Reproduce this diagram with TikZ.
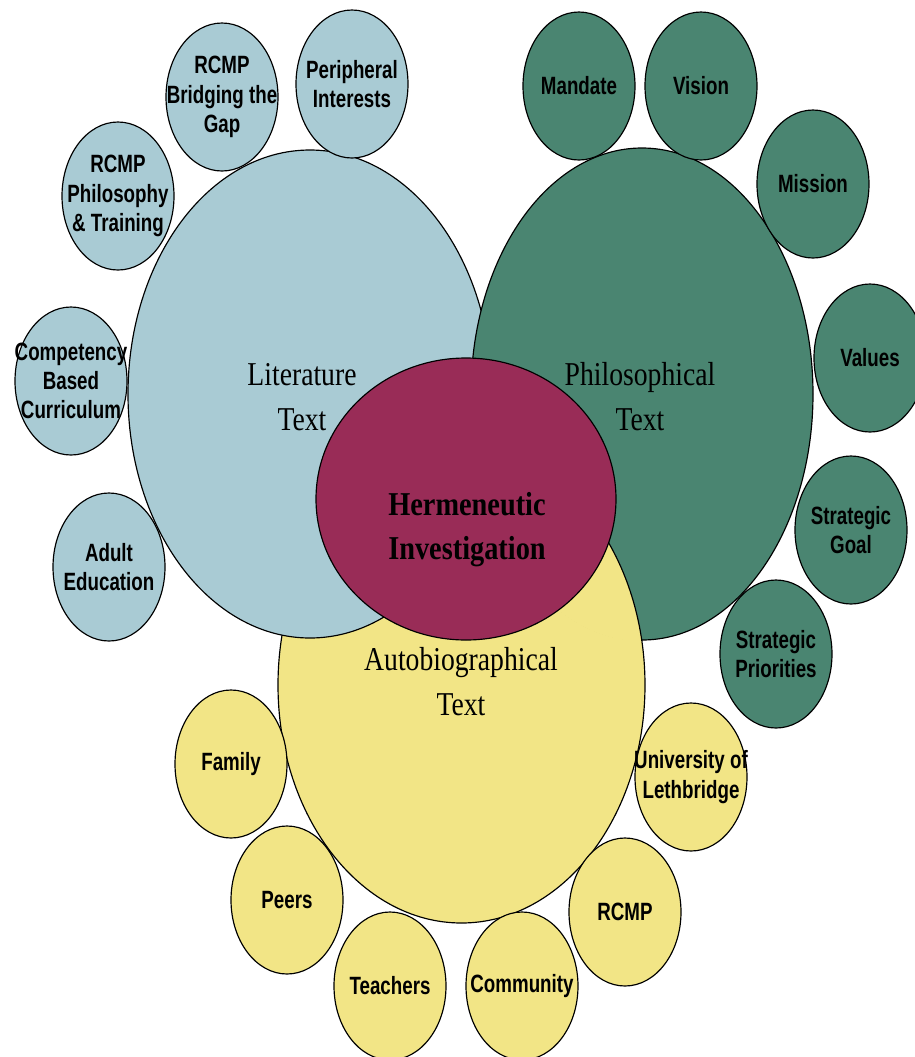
\documentclass[tikz,border=0pt]{standalone}
\usepackage{fontspec}
\usetikzlibrary{shapes.geometric}
\newfontfamily\labfont[FakeStretch=0.75]{Liberation Sans}
\newfontfamily\bigfont[FakeStretch=0.83]{Liberation Serif}
\newfontfamily\herfont[FakeStretch=0.85]{Liberation Serif}
\definecolor{litblue}{HTML}{A9CBD4}
\definecolor{philgreen}{HTML}{4A8571}
\definecolor{autoyellow}{HTML}{F2E586}
\definecolor{hermred}{HTML}{992C57}
\begin{document}
\begin{tikzpicture}[x=0.6pt,y=-0.6pt,
  outl/.style={draw=black, line width=0.7pt},
  bigell/.style={ellipse, outl, inner sep=0pt},
  small/.style={ellipse, outl, inner sep=-40pt, minimum width=67.2pt, minimum height=88.8pt,
    font=\labfont\bfseries\fontsize{15}{17.5}\selectfont, align=center, text=black},
  sblue/.style={small, fill=litblue},
  sgreen/.style={small, fill=philgreen},
  syellow/.style={small, fill=autoyellow},
  bigtext/.style={font=\bigfont\fontsize{20}{27}\selectfont, align=center, inner sep=0pt},
  hertext/.style={font=\herfont\bfseries\fontsize{20}{26.5}\selectfont, align=center, inner sep=0pt}]
\clip (0,0) rectangle (915,1057);
\useasboundingbox (0,0) rectangle (915,1057);

% big ellipses
\node[bigell, fill=autoyellow, minimum width=220.2pt, minimum height=285.6pt] (autoE) at (461.5,685) {};
\node[bigell, fill=litblue, minimum width=218.4pt, minimum height=292.8pt] (litE) at (310,394) {};
\node[bigell, fill=philgreen, minimum width=205.2pt, minimum height=295.2pt] (philE) at (642,394) {};
\begin{scope}
  \clip (642,394) ellipse [x radius=103.4pt, y radius=148.4pt];
  \path[fill=autoyellow, outl] (461.5,685) ellipse [x radius=110.1pt, y radius=142.8pt];
\end{scope}
\node[bigell, fill=hermred, minimum width=180pt, minimum height=169.2pt] (hermE) at (466,499) {};

% big texts
\node[bigtext] (litT) at (302,397) {Literature\\Text};
\node[bigtext] (philT) at (640,397) {Philosophical\\Text};
\node[bigtext] (autoT) at (461,682) {Autobiographical\\Text};
\node[hertext] (hermT) at (467,530) {Hermeneutic\\Investigation};

% literature satellites
\node[sblue] (bridge) at (222,97) {RCMP\\Bridging the\\Gap};
\node[sblue] (periph) at (352,84) {Peripheral\\Interests};
\node[sblue] (philo) at (118,196) {RCMP\\Philosophy\\\& Training};
\node[sblue] (comp) at (71,381) {Competency\\Based\\Curriculum};
\node[sblue] (adult) at (109,567) {Adult\\Education};

% philosophical satellites
\node[sgreen] (mandate) at (579,86) {Mandate};
\node[sgreen] (vision) at (701,86) {Vision};
\node[sgreen] (mission) at (813,184) {Mission};
\node[sgreen] (values) at (870,358) {Values};
\node[sgreen] (goal) at (851,530) {Strategic\\Goal};
\node[sgreen] (prio) at (776,654) {Strategic\\Priorities};

% autobiographical satellites
\node[syellow] (family) at (231,764) {Family};
\node[syellow] (peers) at (287,900) {Peers};
\node[syellow] (teach) at (390,986) {Teachers};
\node[syellow] (comm) at (522,986) {Community};
\node[syellow] (rcmp) at (625,912) {RCMP};
\node[syellow] (uleth) at (691,777) {University of\\Lethbridge};
\end{tikzpicture}
\end{document}
